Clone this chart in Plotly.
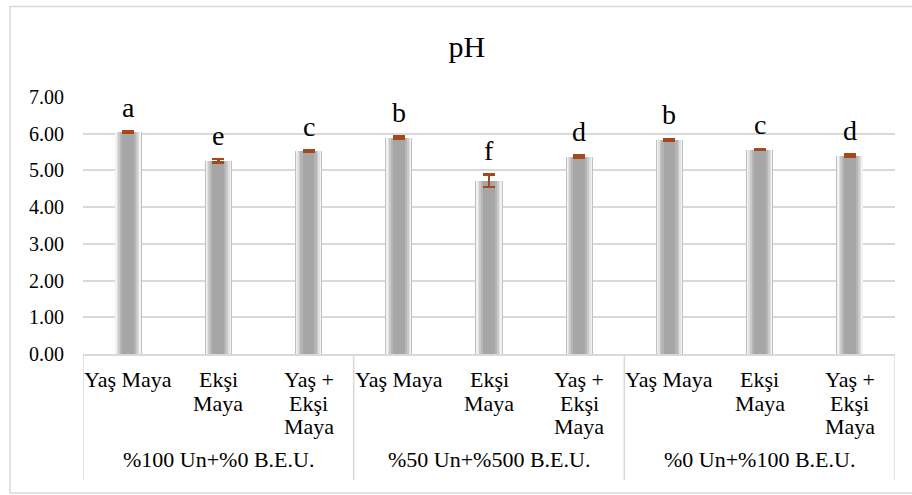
import plotly.graph_objects as go

categories = ["Yaş Maya", "Ekşi<br>Maya", "Yaş +<br>Ekşi<br>Maya",
              "Yaş Maya", "Ekşi<br>Maya", "Yaş +<br>Ekşi<br>Maya",
              "Yaş Maya", "Ekşi<br>Maya", "Yaş +<br>Ekşi<br>Maya"]
groups = ["%100 Un+%0 B.E.U.", "%50 Un+%500 B.E.U.", "%0 Un+%100 B.E.U."]
ph_values = [6.04, 5.26, 5.53, 5.89, 4.72, 5.37, 5.84, 5.57, 5.40]
ph_errors = [0.02, 0.05, 0.02, 0.03, 0.17, 0.03, 0.02, 0.02, 0.04]
letters = ["a", "e", "c", "b", "f", "d", "b", "c", "d"]
y_ticks = [0, 1, 2, 3, 4, 5, 6, 7]

FONT = "Liberation Serif, Times New Roman, serif"
GRID = "#d9d9d9"
x_idx = list(range(len(ph_values)))
PLOT_H = 257.0  # plot-area height in px, used to convert pixel offsets to paper units

fig = go.Figure()
# layered bars to mimic the bevelled grey column style
layers = [(0.30, "#c0c0c0"), (0.28, "#f2f2f2"), (0.25, "#e0e0e0"),
          (0.22, "#cacaca"), (0.18, "#b5b5b5"), (0.13, "#a6a6a6")]
for i, (w, c) in enumerate(layers):
    last = i == len(layers) - 1
    fig.add_trace(go.Bar(
        x=x_idx, y=ph_values, width=w, marker=dict(color=c, line=dict(width=0)),
        hoverinfo="skip",
        error_y=dict(type="data", array=ph_errors, visible=last,
                     color="#a5481c", thickness=2.5, width=6),
        showlegend=False))

for xi, v, e, t in zip(x_idx, ph_values, ph_errors, letters):
    fig.add_annotation(x=xi, y=v + e, text=t, showarrow=False, yanchor="middle",
                       yshift=24, font=dict(family=FONT, size=28, color="#000"))

# category labels, one annotation per text line (tight line spacing)
for xi, lab in zip(x_idx, categories):
    for li, line in enumerate(lab.split("<br>")):
        fig.add_annotation(x=xi, y=-(25 + 24 * li) / PLOT_H, yref="paper", text=line,
                           showarrow=False, yanchor="middle",
                           font=dict(family=FONT, size=22, color="#000"))

for gi, g in enumerate(groups):
    fig.add_annotation(x=gi * 3 + 1, y=-106 / PLOT_H, yref="paper", text=g, showarrow=False,
                       yanchor="middle", font=dict(family=FONT, size=22, color="#000"))

# table dividers under the category axis
for xd in [-0.5, 2.5, 5.5, 8.5]:
    fig.add_shape(type="line", x0=xd, x1=xd, xref="x", y0=0, y1=-126 / PLOT_H, yref="paper",
                  line=dict(color=GRID, width=1.5))
# outer chart border
fig.add_shape(type="rect", xref="paper", yref="paper", x0=-0.0899, x1=1.06,
              y0=-0.541, y1=1.352, line=dict(color=GRID, width=1.5), layer="below")

fig.update_layout(
    width=912, height=495,
    margin=dict(l=83, r=17, t=97, b=141),
    paper_bgcolor="white", plot_bgcolor="white",
    barmode="overlay", bargap=0,
    title=dict(text="pH", x=0.512, xref="container", y=0.907, yref="container",
               xanchor="center", yanchor="middle",
               font=dict(family=FONT, size=30, color="#000")),
    font=dict(family=FONT, color="#000"),
    xaxis=dict(tickmode="array", tickvals=x_idx, ticktext=[""] * len(x_idx),
               range=[-0.5, 8.5], showgrid=False, zeroline=False,
               showline=True, linecolor=GRID, linewidth=1.5, ticks=""),
    yaxis=dict(range=[0, 7], tickvals=y_ticks, tickformat=".2f",
               showgrid=True, gridcolor=GRID, gridwidth=1.5, zeroline=False,
               showline=False, ticks="", ticklabelstandoff=18,
               tickfont=dict(family=FONT, size=20, color="#000")),
)

fig.write_html("out.html", config={"displayModeBar": False},
               post_script="document.body.style.margin='0';document.body.style.padding='0';")
